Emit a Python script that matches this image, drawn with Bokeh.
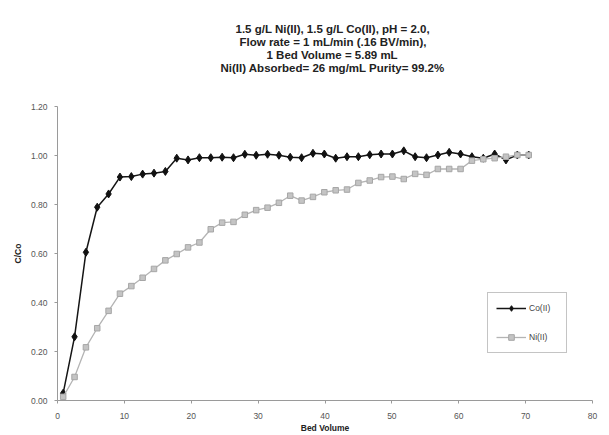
from bokeh.plotting import figure
from bokeh.models import Range1d, FixedTicker, Legend, LegendItem, NumeralTickFormatter, Title
from bokeh.embed import file_html
from bokeh.resources import INLINE

# ---- data ----
bed_volume = [0.85, 2.55, 4.25, 5.94, 7.64, 9.34, 11.04, 12.73, 14.43, 16.13,
              17.83, 19.52, 21.22, 22.92, 24.62, 26.32, 28.01, 29.71, 31.41, 33.11,
              34.80, 36.50, 38.20, 39.90, 41.60, 43.29, 44.99, 46.69, 48.39, 50.08,
              51.78, 53.48, 55.18, 56.88, 58.57, 60.27, 61.97, 63.67, 65.37, 67.06,
              68.76, 70.46]
co_ii = [0.03, 0.26, 0.605, 0.789, 0.843, 0.912, 0.914, 0.924, 0.928, 0.935,
         0.989, 0.982, 0.991, 0.991, 0.993, 0.991, 1.005, 1.001, 1.005, 1.001,
         0.993, 0.991, 1.009, 1.006, 0.989, 0.995, 0.995, 1.003, 1.006, 1.006,
         1.019, 0.995, 0.991, 1.002, 1.013, 1.006, 0.995, 0.989, 1.006, 0.982,
         1.002, 1.002]
ni_ii = [0.015, 0.096, 0.217, 0.295, 0.366, 0.436, 0.467, 0.501, 0.537, 0.572,
         0.598, 0.625, 0.645, 0.699, 0.726, 0.729, 0.758, 0.777, 0.787, 0.807,
         0.836, 0.816, 0.831, 0.850, 0.858, 0.861, 0.888, 0.898, 0.912, 0.914,
         0.904, 0.925, 0.921, 0.945, 0.945, 0.945, 0.979, 0.985, 0.989, 0.995,
         1.002, 1.002]
x_ticks = [0, 10, 20, 30, 40, 50, 60, 70, 80]
y_ticks = [0.0, 0.2, 0.4, 0.6, 0.8, 1.0, 1.2]
title_lines = ["1.5 g/L Ni(II), 1.5 g/L Co(II), pH = 2.0,",
               "Flow rate = 1 mL/min (.16 BV/min),",
               "1 Bed Volume =  5.89 mL",
               "Ni(II) Absorbed= 26 mg/mL  Purity= 99.2%"]
series_names = ["Co(II)", "Ni(II)"]
x_label = "Bed Volume"
y_label = "C/Co"

FONT = "Liberation Sans"
TITLE_SIZE = 11.5

# Arial/Liberation Sans Bold advance widths (1/1000 em), used to centre the title lines
BOLD_W = {" ": 278, ".": 278, ",": 278, "/": 278, "(": 333, ")": 333, "=": 584,
          "%": 889, "0": 556, "1": 556, "2": 556, "3": 556, "4": 556, "5": 556,
          "6": 556, "7": 556, "8": 556, "9": 556, "A": 722, "B": 722, "C": 722,
          "H": 722, "I": 278, "L": 611, "N": 722, "P": 667, "V": 667, "F": 611,
          "a": 556, "b": 611, "d": 611, "e": 556, "g": 611, "i": 278, "l": 278,
          "m": 889, "n": 611, "o": 611, "p": 611, "r": 389, "s": 556, "t": 333,
          "u": 611, "v": 556, "w": 778, "y": 556}


def text_width(s, size):
    s = " ".join(s.split())  # SVG collapses runs of spaces
    return sum(BOLD_W.get(c, 556) for c in s) * size / 1000.0


FRAME_LEFT = 57
TITLE_CENTER = 332

p = figure(width=609, height=435, output_backend="svg", toolbar_location=None,
           x_range=Range1d(0, 80), y_range=Range1d(0, 1.2))
p.min_border_left = FRAME_LEFT
p.min_border_right = 17
p.min_border_top = 106
p.min_border_bottom = 32
p.outline_line_color = None
p.xgrid.grid_line_color = None
p.ygrid.grid_line_color = None
p.background_fill_color = "white"
p.border_fill_color = "white"

for ax in (p.xaxis[0], p.yaxis[0]):
    ax.axis_line_color = "#9a9a9a"
    ax.major_tick_line_color = "#9a9a9a"
    ax.minor_tick_line_color = None
    ax.major_tick_in = 0
    ax.major_tick_out = 3
    ax.major_label_text_font = FONT
    ax.major_label_text_font_size = "8.5px"
    ax.major_label_text_color = "#555555"
    ax.axis_label_text_font = FONT
    ax.axis_label_text_font_size = "8.5px"
    ax.axis_label_text_font_style = "bold"
    ax.axis_label_text_color = "#222222"

p.xaxis[0].ticker = FixedTicker(ticks=x_ticks)
p.yaxis[0].ticker = FixedTicker(ticks=y_ticks)
p.yaxis[0].formatter = NumeralTickFormatter(format="0.00")
p.xaxis[0].major_label_standoff = 9
p.yaxis[0].major_label_standoff = 7
p.xaxis[0].axis_label = x_label
p.yaxis[0].axis_label = y_label
p.xaxis[0].axis_label_standoff = 1
p.yaxis[0].axis_label_standoff = 5

co_line = p.line(bed_volume, co_ii, line_color="#151515", line_width=1.5)
co_mark = p.scatter(bed_volume, co_ii, marker="diamond", size=8,
                    fill_color="#111111", line_color="#111111")
ni_line = p.line(bed_volume, ni_ii, line_color="#b4b4b4", line_width=1.3)
ni_mark = p.scatter(bed_volume, ni_ii, marker="square", size=5.5,
                    fill_color="#c4c4c4", line_color="#a6a6a6")

legend = Legend(items=[LegendItem(label=series_names[0], renderers=[co_line, co_mark]),
                       LegendItem(label=series_names[1], renderers=[ni_line, ni_mark])],
                location=(430, 47))
legend.border_line_color = "#8a8a8a"
legend.border_line_width = 1
legend.background_fill_color = "white"
legend.background_fill_alpha = 1
legend.padding = 8
legend.spacing = 15
legend.margin = 0
legend.glyph_width = 30
legend.glyph_height = 14
legend.label_height = 14
legend.label_width = 29
legend.label_standoff = 3
legend.label_text_font = FONT
legend.label_text_font_size = "8.5px"
legend.label_text_color = "#444444"
p.add_layout(legend, "center")

# spacer nearest the frame, then the title lines stacked outward
p.add_layout(Title(text=" ", text_font=FONT, text_font_size=f"{TITLE_SIZE}px",
                   standoff=19), "above")
for txt in reversed(title_lines):
    off = int(round(TITLE_CENTER - text_width(txt, TITLE_SIZE) / 2 - FRAME_LEFT))
    p.add_layout(Title(text=txt, align="left", offset=off, text_font=FONT,
                       text_font_size=f"{TITLE_SIZE}px", text_font_style="bold",
                       text_color="#222222", standoff=-1), "above")

open("out.html", "w").write(file_html(p, INLINE))
